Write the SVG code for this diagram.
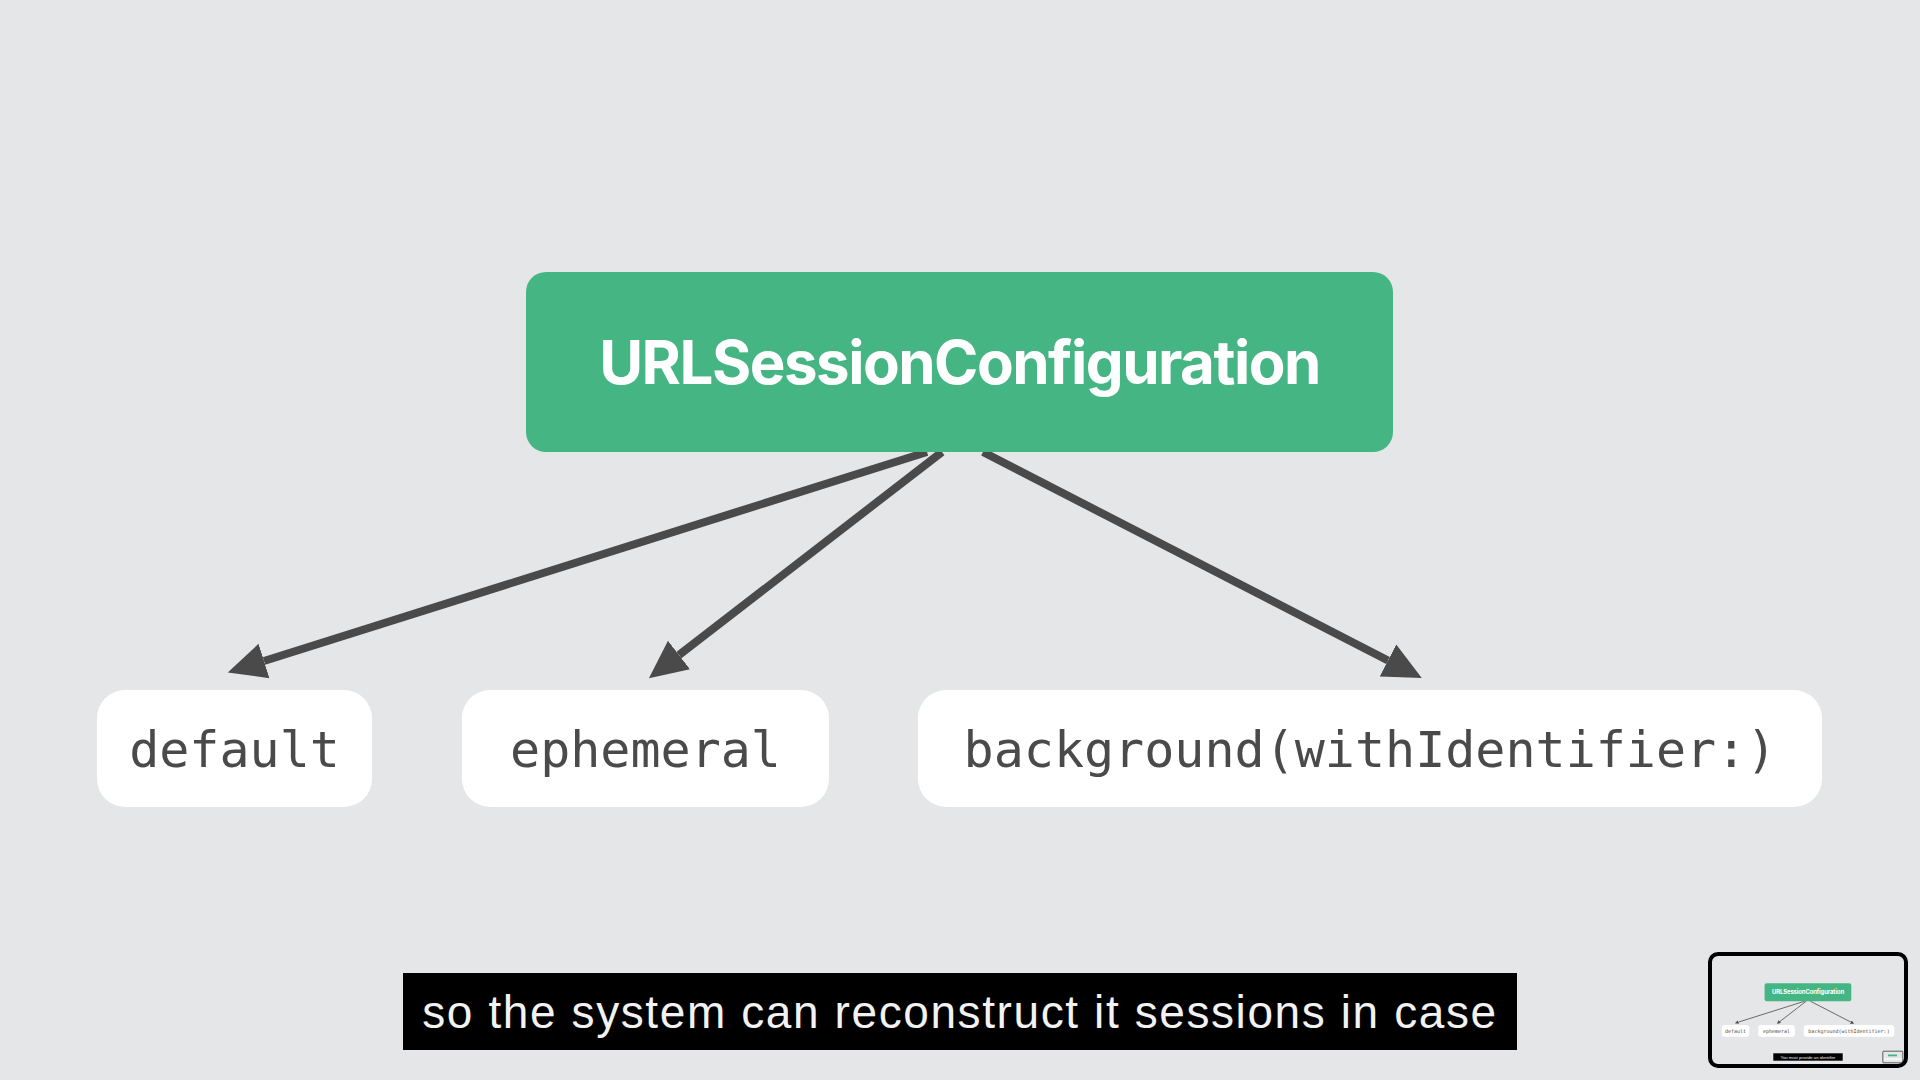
<svg xmlns="http://www.w3.org/2000/svg" width="1920" height="1080" viewBox="0 0 1920 1080">
  <defs>
    <style>
      .bg { fill: #e5e6e8; }
      .title-box { fill: #45b583; }
      .title { font-family: Inter, "Liberation Sans", sans-serif; font-weight: 700; font-size: 60px; fill: #ffffff; text-anchor: middle; letter-spacing: -1.5px; }
      .node-box { fill: #ffffff; }
      .code { font-family: "DejaVu Sans Mono", "Liberation Mono", monospace; font-size: 50px; fill: #4a4a4a; text-anchor: middle; }
      .edge { stroke: #4a4a4a; stroke-width: 8; fill: none; }
      .sub-box { fill: #000000; }
      .sub { font-family: "Liberation Sans", Arial, sans-serif; font-size: 46px; letter-spacing: 1.6px; fill: #f2f2f2; text-anchor: middle; }
      .frame { fill: none; stroke: #000000; stroke-width: 4; }
    </style>
    <marker id="arrow" markerUnits="userSpaceOnUse" markerWidth="40" markerHeight="38" refX="0" refY="18" orient="auto" viewBox="0 0 40 36">
      <path d="M0,0 L38,18 L0,36 Z" fill="#4a4a4a"/>
    </marker>
  </defs>

  <rect class="bg" x="0" y="0" width="1920" height="1080"/>

  <g id="connectors">
    <line class="edge" x1="927" y1="452" x2="264" y2="661" marker-end="url(#arrow)"/>
    <line class="edge" x1="942" y1="452" x2="679" y2="655" marker-end="url(#arrow)"/>
    <line class="edge" x1="983" y1="452" x2="1388" y2="660.5" marker-end="url(#arrow)"/>
  </g>

  <g id="node-urlsessionconfiguration">
    <rect class="title-box" x="526" y="272" width="867" height="180" rx="20"/>
    <text class="title" x="959.5" y="384">URLSessionConfiguration</text>
  </g>

  <g id="node-default">
    <rect class="node-box" x="97" y="690" width="275" height="117" rx="28"/>
    <text class="code" x="234.5" y="767">default</text>
  </g>

  <g id="node-ephemeral">
    <rect class="node-box" x="462" y="690" width="367" height="117" rx="28"/>
    <text class="code" x="645.5" y="767">ephemeral</text>
  </g>

  <g id="node-background">
    <rect class="node-box" x="918" y="690" width="904" height="117" rx="28"/>
    <text class="code" x="1370" y="767">background(withIdentifier:)</text>
  </g>

  <g id="subtitle">
    <rect class="sub-box" x="403" y="973" width="1114" height="77"/>
    <text class="sub" x="960" y="1028">so the system can reconstruct it sessions in case</text>
  </g>

  <g id="thumbnail">
    <rect x="1710" y="954" width="196" height="112" rx="8" fill="#e5e6e8"/>
    <g transform="translate(1712 956) scale(0.1)">
      <g>
        <line class="edge" x1="927" y1="452" x2="264" y2="661" marker-end="url(#arrow)"/>
        <line class="edge" x1="942" y1="452" x2="679" y2="655" marker-end="url(#arrow)"/>
        <line class="edge" x1="983" y1="452" x2="1388" y2="660.5" marker-end="url(#arrow)"/>
      </g>
      <rect class="title-box" x="526" y="272" width="867" height="180" rx="20"/>
      <text class="title" x="959.5" y="384">URLSessionConfiguration</text>
      <rect class="node-box" x="97" y="690" width="275" height="117" rx="28"/>
      <text class="code" x="234.5" y="767">default</text>
      <rect class="node-box" x="462" y="690" width="367" height="117" rx="28"/>
      <text class="code" x="645.5" y="767">ephemeral</text>
      <rect class="node-box" x="918" y="690" width="904" height="117" rx="28"/>
      <text class="code" x="1370" y="767">background(withIdentifier:)</text>
      <rect class="sub-box" x="613" y="973" width="694" height="74"/>
      <text class="sub" x="960" y="1026" style="font-size:42px;letter-spacing:0">You must provide an identifier</text>
      <rect x="1708" y="952" width="200" height="116" rx="8" fill="#e5e6e8" stroke="#000000" stroke-width="6"/>
      <rect x="1760" y="985" width="90" height="18" fill="#45b583"/>
      <rect x="1720" y="1024" width="176" height="12" fill="#ffffff"/>
    </g>
    <rect class="frame" x="1710" y="954" width="196" height="112" rx="8"/>
  </g>
</svg>
